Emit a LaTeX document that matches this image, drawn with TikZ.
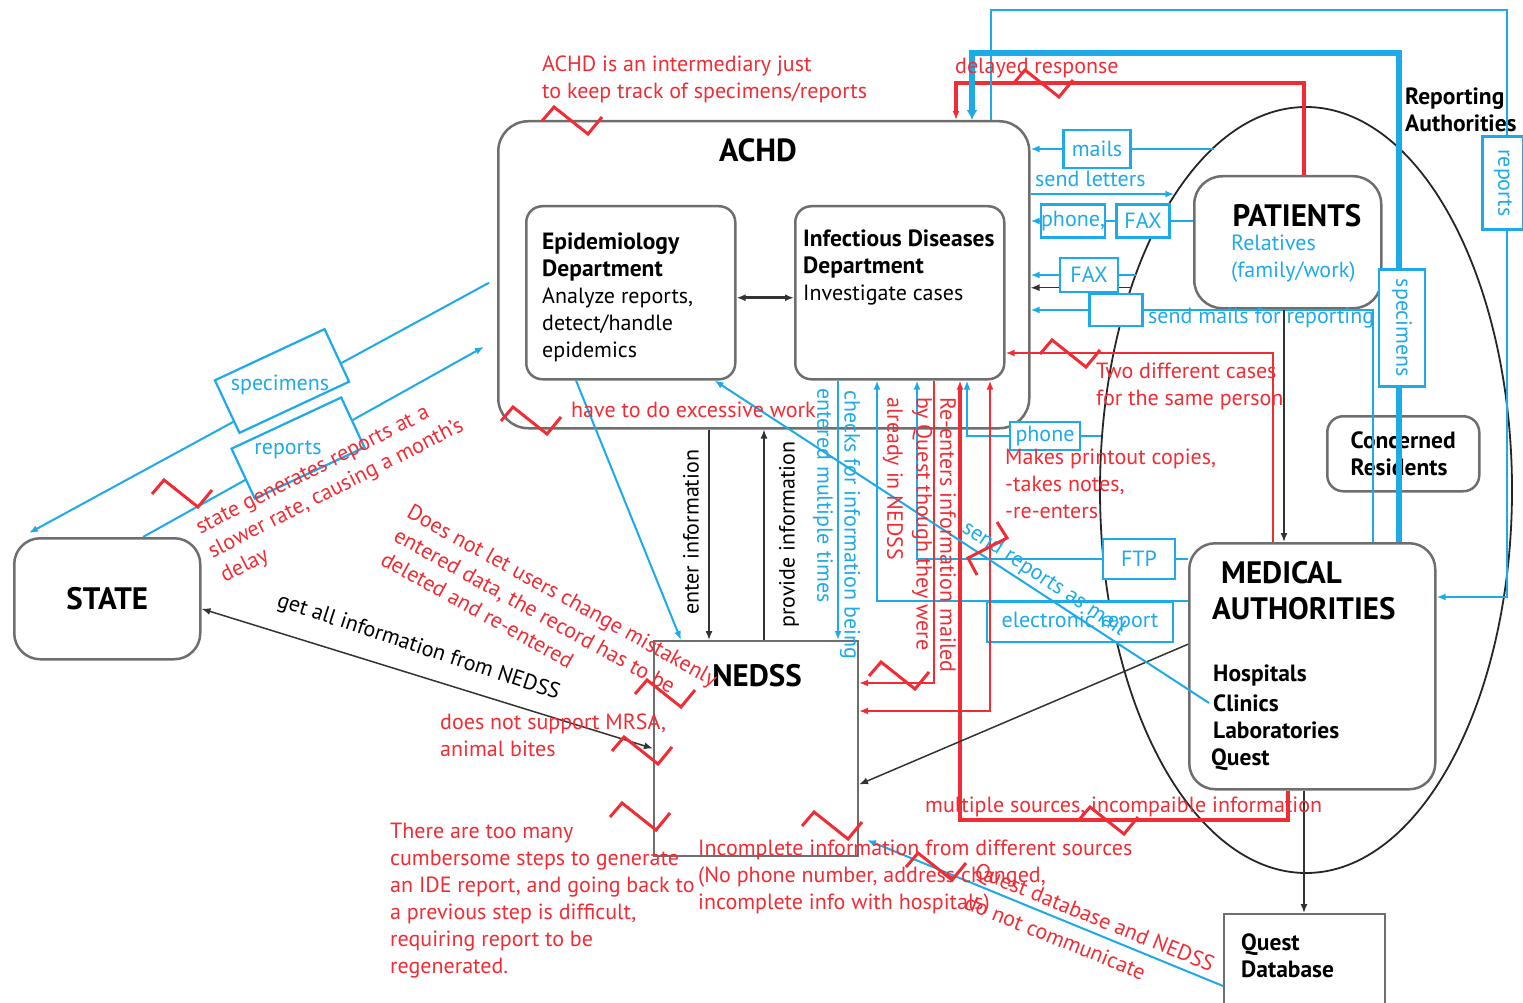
\documentclass[tikz,border=0pt]{standalone}
\usepackage{fontspec}
\setmainfont{PT Sans}
\usetikzlibrary{positioning,shapes.geometric,arrows.meta}

\definecolor{achdblue}{RGB}{30,170,232}
\definecolor{achdred}{RGB}{240,44,52}
\definecolor{boxgray}{RGB}{110,110,110}
\newcommand\notesize{\fontsize{22}{27}\selectfont}
\newcommand\boldsize{\fontsize{23.5}{27}\selectfont\bfseries}
\newcommand\headsize{\fontsize{31}{36}\selectfont}

\tikzset{
  zigzag/.pic={\draw[achdred, line width=3pt] (0,14) -- (12,0) -- (46,27) -- (60,10);}
}

\begin{document}
\begin{tikzpicture}[x=1pt, y=-1pt,
>={Latex[length=9pt,width=7pt]},
bigbox/.style={rectangle, draw=boxgray, line width=2.5pt, rounded corners=28pt, inner sep=0pt, anchor=north west},
subbox/.style={bigbox, rounded corners=16pt},
flatbox/.style={rectangle, draw=boxgray, line width=2pt, inner sep=0pt, anchor=north west},
tag/.style={rectangle, draw=achdblue, line width=2.2pt, fill=white, text=achdblue, font=\notesize, inner sep=0pt},
note/.style={text=achdred, font=\notesize, inner sep=0pt, align=left},
btext/.style={text=achdblue, font=\notesize, inner sep=0pt, align=left},
ktext/.style={font=\notesize, inner sep=0pt, align=left},
head/.style={font=\headsize\bfseries, inner sep=0pt},
bline/.style={draw=achdblue, line width=2pt},
bthick/.style={draw=achdblue, line width=6pt},
rline/.style={draw=achdred, line width=2pt},
kline/.style={draw=black!80, line width=1.5pt},
]
\useasboundingbox (0,0) rectangle (1523,1003);

%Nodes
\node[ellipse, draw=black!85, line width=1.8pt, minimum width=412pt, minimum height=766pt, inner sep=0pt] (rep) at (1306,490) {};
\node[bigbox, minimum width=531pt, minimum height=307pt, rounded corners=30pt] (achd) at (497,120) {};
\node[subbox, minimum width=209pt, minimum height=173pt] (epi) at (525,205) {};
\node[subbox, minimum width=209pt, minimum height=173pt] (ids) at (794,205) {};
\node[bigbox, minimum width=186pt, minimum height=121pt, rounded corners=26pt, font=\headsize\bfseries] (state) at (13,537) {STATE};
\node[flatbox, minimum width=204pt, minimum height=215pt] (nedss) at (653,640) {};
\node[bigbox, minimum width=187pt, minimum height=132pt] (patients) at (1193,175) {};
\node[subbox, minimum width=152pt, minimum height=75pt, font=\boldsize, align=left] (residents) at (1326,415) {Concerned\\Residents};
\node[bigbox, minimum width=246pt, minimum height=246pt, rounded corners=26pt] (medauth) at (1188,542) {};
\node[flatbox, minimum width=161pt, minimum height=100pt] (questdb) at (1223,913) {};

%Texts in boxes
\node[head, font=\fontsize{32}{36}\selectfont\bfseries] (achdtitle) at (758,150) {ACHD};
\node[ktext, anchor=north west] (epitext) at (542,233) {{\boldsize Epidemiology}\\{\boldsize Department}\\Analyze reports,\\detect/handle\\epidemics};
\node[ktext, anchor=north west] (idstext) at (803,230) {{\boldsize Infectious Diseases}\\{\boldsize Department}\\Investigate cases};
\node[head] (nedsstitle) at (757,676) {NEDSS};
\node[head] (pattitle) at (1297,216) {PATIENTS};
\node[btext, anchor=north west] (relatives) at (1231,235) {Relatives\\(family/work)};
\node[head, anchor=west] (matitle1) at (1221,573) {MEDICAL};
\node[head, anchor=west] (matitle2) at (1212,609) {AUTHORITIES};
\node[ktext, font=\boldsize, anchor=west] (hosp) at (1213,675) {Hospitals};
\node[ktext, font=\boldsize, anchor=west] (clin) at (1213,703) {Clinics};
\node[ktext, font=\boldsize, anchor=west] (labs) at (1213,730) {Laboratories};
\node[ktext, font=\boldsize, anchor=west] (quest) at (1211,760) {Quest};
\node[ktext, font=\boldsize, anchor=north west] (qdbtext) at (1241,934) {Quest\\Database};
\node[ktext, font=\boldsize, anchor=north west] (reptitle) at (1405,88) {Reporting\\Authorities};

%Tracks
\coordinate (dly1) at (1304,83);
\coordinate (dly2) at (956,83);
\coordinate (spc1) at (1399,53);
\coordinate (spc2) at (972,53);
\coordinate (rpt1) at (991,10);
\coordinate (rpt2) at (1507,10);
\coordinate (rpt3) at (1507,597);
\coordinate (sml) at (1373,310);
\coordinate (pat) at (1284,400);
\coordinate (two) at (1273,353);
\coordinate (phn) at (967,436);
\coordinate (ftpc) at (917,559);
\coordinate (elc) at (877,601);
\coordinate (chk) at (838,500);
\coordinate (rnt) at (934,683);
\coordinate (mlt1) at (1288,820);
\coordinate (mlt2) at (960,820);
\coordinate (dup) at (990,711);
\coordinate (ent) at (709,500);
\coordinate (prv) at (764,500);
\coordinate (qdb) at (1304,850);

%Lines
\draw[rline, line width=3.5pt, ->] (dly1 |- patients.north) -- (dly1) -- (dly2) -- (dly2 |- achd.north);
\draw[bthick, -{Latex[length=10pt,width=11pt]}] (spc1 |- medauth.north) -- (spc1) -- (spc2) -- (spc2 |- achd.north);
\draw[bline, ->] (rpt1 |- achd.north) -- (rpt1) -- (rpt2) -- (rpt3) -- (rpt3 -| medauth.east);

\node[tag, minimum width=67pt, minimum height=38pt] (mails) at (1097,149) {mails};
\draw[bline, ->] (mails -| rep.105.8) -- (mails) -- (mails -| achd.east);
\draw[bline, ->] (achd.east |- rep.114.3) -- (rep.114.3);
\node[btext, anchor=base west] (letters) at (1035,187) {send letters};

\node[tag, minimum width=53pt, minimum height=33pt] (phone1) at (1073,221) {phone,};
\node[tag, minimum width=53pt, minimum height=33pt] (fax1) at (1143,221) {FAX};
\draw[bline, ->] (fax1 -| patients.west) -- (fax1) -- (phone1) -- (phone1 -| achd.east);

\draw[kline, ->] (rep.131.3) -- (achd.east |- rep.131.3);
\node[tag, minimum width=58pt, minimum height=34pt] (fax2) at (1089,275) {FAX};
\draw[bline, ->] (fax2 -| rep.128.2) -- (fax2) -- (fax2 -| achd.east);

\node[tag, minimum width=53pt, minimum height=32pt] (blank) at (1116,310) {};
\draw[bline, ->] (sml |- medauth.north) -- (sml) -- (blank) -- (blank -| achd.east);
\node[btext, anchor=base west] (mailsnote) at (1148,323) {send mails for reporting};

\draw[kline, ->] (pat |- patients.south) -- (pat |- medauth.north);
\draw[rline, ->] (two |- medauth.north) -- (two) -- (two -| ids.east);

\node[tag, minimum width=70pt, minimum height=28pt] (phone2) at (1045,436) {phone};
\draw[bline, ->] (phone2 -| rep.166.2) -- (phone2) -- (phn) -- (phn |- ids.south);
\node[tag, minimum width=72pt, minimum height=40pt] (ftp) at (1139,559) {FTP};
\draw[bline, ->] (ftp -| medauth.west) -- (ftp) -- (ftpc) -- (ftpc |- ids.south);
\draw[bline, ->] (elc -| medauth.west) -- (elc) -- (elc |- ids.south);
\node[tag, minimum width=186pt, minimum height=40pt, anchor=north] (elec) at (1080,601) {electronic report};

\draw[bline, ->] (chk |- ids.south) -- (chk |- nedss.north);
\draw[rline, ->] (rnt |- ids.south) -- (rnt) -- (rnt -| nedss.east);
\draw[rline, line width=3.5pt, ->] (mlt1 |- medauth.south) -- (mlt1) -- (mlt2) -- (mlt2 |- ids.south);
\draw[rline, <->] (dup |- ids.south) -- (dup) -- (dup -| nedss.east);

\draw[kline, ->] (ent |- achd.south) -- (ent |- nedss.north);
\draw[kline, ->] (prv |- nedss.north) -- (prv |- achd.south);
\draw[kline, line width=3pt, <->] ([yshift=-5pt]epi.east) -- ([yshift=-5pt]ids.west);
\draw[bline, ->] ([xshift=51pt]epi.south west) -- ([xshift=28pt]nedss.north west);
\draw[kline, ->] ([yshift=22pt]medauth.west) -- ([yshift=-36pt]nedss.east);
\draw[kline, <->] (nedss.west) -- ([yshift=-10pt]state.east);
\draw[kline, ->] (qdb |- medauth.south) -- (qdb |- questdb.north);
\draw[bline, ->] ([yshift=-22pt]questdb.west) -- ([xshift=8pt,yshift=17pt]nedss.south east);

\draw[bline, ->] ([xshift=-8pt,yshift=-8pt]achd.west) -- ([xshift=16pt,yshift=4pt]state.north west);
\draw[bline, ->] ([xshift=130pt]state.north west) -- ([xshift=-13pt,yshift=-72pt]achd.west);
\node[tag, rotate=25, minimum width=121pt, minimum height=58pt] (spec2) at (282,381) {};
\node[tag, rotate=25, minimum width=121pt, minimum height=55pt] (reps2) at (298,448) {};
\node[btext] (spec2text) at (280,385) {specimens};
\node[btext] (reps2text) at (288,450) {reports};

\node[tag, rotate=-90, minimum width=117pt, minimum height=46pt] (spec1) at (1402,328) {specimens};
\node[tag, rotate=-90, minimum width=93pt, minimum height=41pt] (reps1) at (1503,183) {reports};

\draw[bline, ->] ([xshift=-4pt]clin.west) -- ([xshift=-22pt]epi.south east);
\node[btext, rotate=-33.4, anchor=base west] (sendrep) at (961,531) {send reports as mail};

%Vertical labels
\node[ktext, rotate=90, anchor=west] (enterlbl) at (691,615) {enter information};
\node[ktext, rotate=90, anchor=west] (providelbl) at (789,628) {provide information};
\node[btext, rotate=-90, anchor=west] (enteredlbl) at (823,388) {entered multiple times};
\node[btext, rotate=-90, anchor=west] (checkslbl) at (850,390) {checks for information being};
\node[note, rotate=-90, anchor=west] (n14) at (893,397) {already in NEDSS};
\node[note, rotate=-90, anchor=west] (n15) at (922,397) {by Quest though they were};
\node[note, rotate=-90, anchor=west] (n16) at (948,397) {Re-enters information mailed};
\node[ktext, rotate=-18.4, anchor=base west] (getall) at (276,606) {get all information from NEDSS};

%Notes
\node[note, anchor=north west] (n1) at (542,56) {ACHD is an intermediary just\\to keep track of specimens/reports};
\node[note, anchor=base west] (n2) at (955,74) {delayed response};
\node[note, anchor=base west] (n3) at (571,417) {have to do excessive work};
\node[note, anchor=north west] (n4) at (1096,363) {Two different cases\\for the same person};
\node[note, anchor=north west] (n5) at (1005,449) {Makes printout copies,\\-takes notes,\\-re-enters};
\node[note, rotate=27, anchor=north west] (n6) at (194,522) {state generates reports at a\\slower rate, causing a month's\\delay};
\node[note, rotate=-29, anchor=north west] (n7) at (413,503) {Does not let users change mistakenly\\entered data, the record has to be\\deleted and re-entered};
\node[note, anchor=north west] (n8) at (440,714) {does not support MRSA,\\animal bites};
\node[note, anchor=north west] (n9) at (390,823) {There are too many\\cumbersome steps to generate\\an IDE report, and going back to\\a previous step is difficult,\\requiring report to be\\regenerated.};
\node[note, anchor=north west] (n10) at (698,840) {Incomplete information from different sources\\(No phone number, address changed,\\incomplete info with hospitals)};
\node[note, anchor=base west] (n11) at (925,812) {multiple sources, incompaible information};
\node[note, rotate=-22, anchor=base west] (n12) at (973,876) {Quest database and NEDSS};
\node[note, rotate=-22, anchor=base west] (n13) at (963,908) {do not communicate};

%Zigzags
\pic at (542,107) {zigzag};
\pic at (501,407) {zigzag};
\pic at (152,480) {zigzag};
\pic at (635,680) {zigzag};
\pic at (612,737) {zigzag};
\pic at (610,803) {zigzag};
\pic at (802,812) {zigzag};
\pic at (906,853) {zigzag};
\pic at (1078,807) {zigzag};
\pic at (1013,70) {zigzag};
\pic at (1040,340) {zigzag};
\pic at (869,662) {zigzag};
\draw[achdred, line width=3pt] (997,522) -- (1007,538) -- (968,558) -- (977,575);
\end{tikzpicture}
\end{document}
